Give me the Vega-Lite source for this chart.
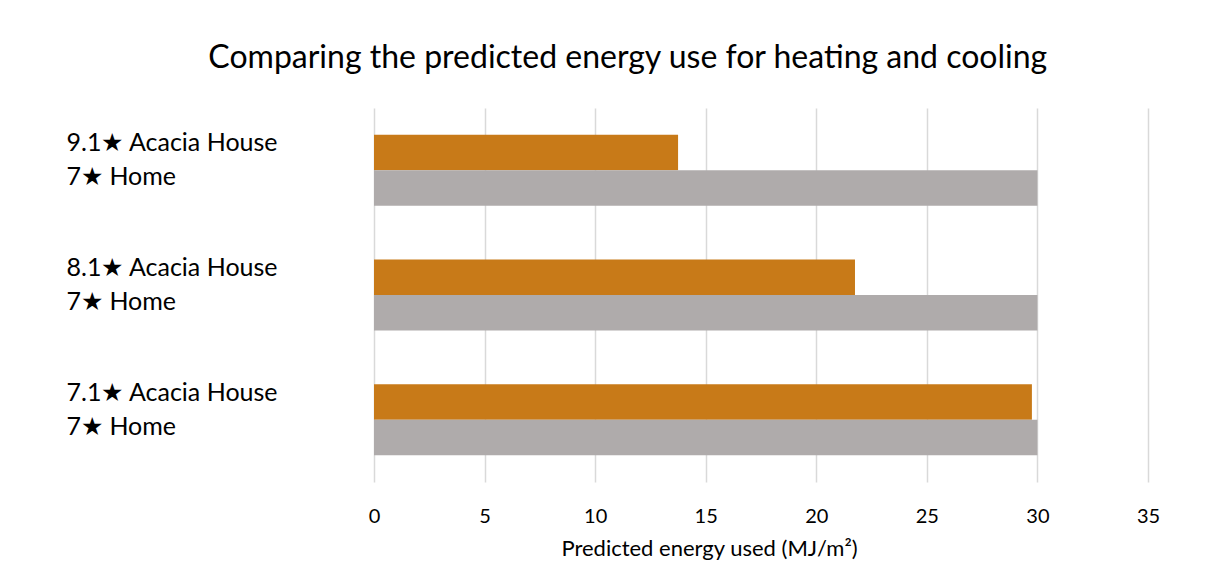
{
  "$schema": "https://vega.github.io/schema/vega-lite/v6.json",
  "width": 774,
  "height": 374,
  "padding": {"left": 0, "top": 42, "right": 10, "bottom": 10},
  "background": "white",
  "config": {"view": {"stroke": null}, "font": "Lato"},
  "title": {
    "text": "Comparing the predicted energy use for heating and cooling",
    "fontSize": 32,
    "font": "Lato",
    "fontWeight": "normal",
    "color": "#000000",
    "anchor": "middle",
    "frame": "bounds",
    "offset": 33,
    "dx": 48
  },
  "data": {
    "values": [
      {"group": "9.1★ Acacia House|7★ Home", "series": "Acacia House", "value": 13.75},
      {"group": "9.1★ Acacia House|7★ Home", "series": "7★ Home", "value": 30},
      {"group": "8.1★ Acacia House|7★ Home", "series": "Acacia House", "value": 21.75},
      {"group": "8.1★ Acacia House|7★ Home", "series": "7★ Home", "value": 30},
      {"group": "7.1★ Acacia House|7★ Home", "series": "Acacia House", "value": 29.75},
      {"group": "7.1★ Acacia House|7★ Home", "series": "7★ Home", "value": 30}
    ]
  },
  "encoding": {
    "y": {
      "field": "group",
      "type": "nominal",
      "sort": null,
      "scale": {"paddingInner": 0, "paddingOuter": 0},
      "axis": {
        "title": null,
        "domain": false,
        "ticks": false,
        "grid": false,
        "labelAlign": "left",
        "labelPadding": 308,
        "labelFontSize": 25,
        "labelLineHeight": 34,
        "labelOffset": -27,
        "labelColor": "#000000",
        "labelLimit": 400,
        "labelExpr": "split(datum.label, '|')",
        "minExtent": 374,
        "maxExtent": 374
      }
    },
    "yOffset": {
      "field": "series",
      "type": "nominal",
      "sort": ["Acacia House", "7★ Home"],
      "scale": {"paddingInner": 0, "paddingOuter": 0.756}
    },
    "x": {
      "field": "value",
      "type": "quantitative",
      "scale": {"domain": [0, 35], "nice": false},
      "axis": {
        "title": "Predicted energy used (MJ/m²)",
        "values": [0, 5, 10, 15, 20, 25, 30, 35],
        "grid": true,
        "gridColor": "#D9D9D9",
        "gridWidth": 1.5,
        "domain": false,
        "ticks": false,
        "labelFlush": false,
        "labelFontSize": 20,
        "labelPadding": 24,
        "labelColor": "#000000",
        "titleFontSize": 22,
        "titleFontWeight": "normal",
        "titleColor": "#000000",
        "titlePadding": 12,
        "titleX": 335
      }
    },
    "color": {
      "field": "series",
      "type": "nominal",
      "scale": {"domain": ["Acacia House", "7★ Home"], "range": ["#C87A18", "#AFABAB"]},
      "legend": null
    }
  },
  "mark": {"type": "bar"}
}
